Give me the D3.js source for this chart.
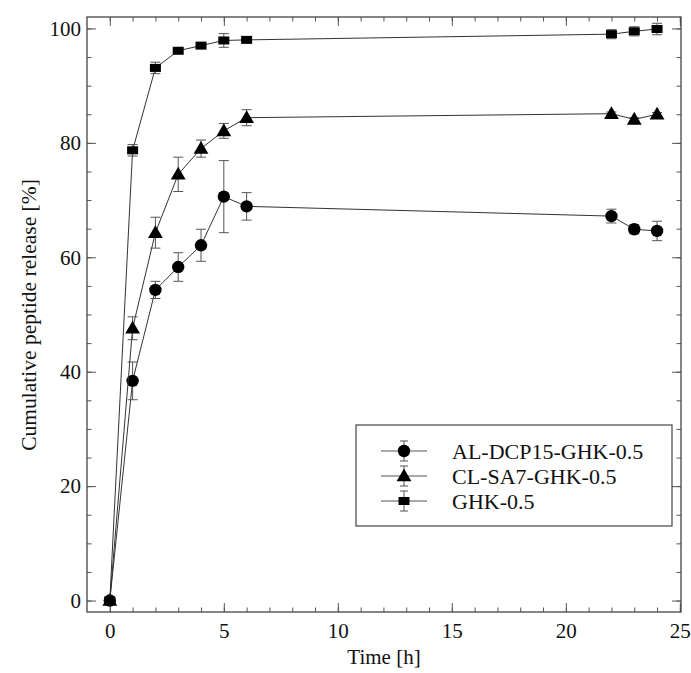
<!DOCTYPE html>
<html>
<head>
<meta charset="utf-8">
<script src="https://cdn.jsdelivr.net/npm/d3@7"></script>
<style>
  body { margin: 0; background: #fff; }
  svg text { font-family: "Liberation Serif", "DejaVu Serif", serif; fill: #111; }
</style>
</head>
<body>
<svg id="chart" width="691" height="673"></svg>
<script>
// Tiempo (h)
const tiempos = [0, 1, 2, 3, 4, 5, 6, 22, 23, 24];

// Liberación acumulada (%) y desviaciones
const alDcp = [0, 38.4, 54.3, 58.3, 62.1, 70.6, 68.9, 67.2, 64.9, 64.6];
const alDcpErr = [0, 3.3, 1.5, 2.5, 2.8, 6.3, 2.4, 1.2, 0.8, 1.7];
const clSa = [0, 47.6, 64.3, 74.5, 79.0, 82.1, 84.4, 85.1, 84.1, 85.0];
const clSaErr = [0, 2.0, 2.7, 3.0, 1.5, 1.3, 1.4, 0.3, 0.3, 0.3];
const ghk = [0, 78.7, 93.1, 96.1, 97.0, 97.9, 98.0, 99.0, 99.5, 99.9];
const ghkErr = [0, 1.0, 1.0, 0.4, 0.4, 1.2, 0.4, 0.8, 0.8, 1.0];

const nombres = ["AL-DCP15-GHK-0.5", "CL-SA7-GHK-0.5", "GHK-0.5"];

const xTicks = [0, 5, 10, 15, 20, 25];
const yTicks = [0, 20, 40, 60, 80, 100];

const series = [
  { nombre: nombres[0], valores: alDcp, err: alDcpErr, simbolo: "circle" },
  { nombre: nombres[1], valores: clSa, err: clSaErr, simbolo: "triangle" },
  { nombre: nombres[2], valores: ghk, err: ghkErr, simbolo: "square" }
];

const svg = d3.select("#chart");
const margin = { left: 87, right: 10, top: 17, bottom: 61 };
const W = 691 - margin.left - margin.right;
const H = 673 - margin.top - margin.bottom;

const x = d3.scaleLinear().domain([-1, 25.05]).range([0, W]);
const y = d3.scaleLinear().domain([-2, 102]).range([H, 0]);

const g = svg.append("g").attr("transform", `translate(${margin.left},${margin.top})`);
const ink = "#333";

// Marcas hacia dentro
function marcas(axisGen, valores, largo) {
  return axisGen.tickValues(valores).tickSize(-largo).tickFormat("");
}

// inferior
const ejeX = g.append("g").attr("transform", `translate(0,${H})`);
ejeX.call(marcas(d3.axisBottom(x), d3.range(0, 26, 1), 4.5));
ejeX.append("g").call(marcas(d3.axisBottom(x), xTicks, 9));
ejeX.append("g").attr("class", "etq").call(d3.axisBottom(x).tickValues(xTicks).tickSize(0).tickPadding(11));
// superior
const ejeXt = g.append("g");
ejeXt.call(marcas(d3.axisTop(x), d3.range(0, 26, 1), 4.5));
ejeXt.append("g").call(marcas(d3.axisTop(x), xTicks, 9));
// izquierdo
const ejeY = g.append("g");
ejeY.call(marcas(d3.axisLeft(y), d3.range(0, 101, 5), 4.5));
ejeY.append("g").call(marcas(d3.axisLeft(y), yTicks, 9));
ejeY.append("g").attr("class", "etq").call(d3.axisLeft(y).tickValues(yTicks).tickSize(0).tickPadding(6));
// derecho
const ejeYr = g.append("g").attr("transform", `translate(${W},0)`);
ejeYr.call(marcas(d3.axisRight(y), d3.range(0, 101, 5), 4.5));
ejeYr.append("g").call(marcas(d3.axisRight(y), yTicks, 9));

g.selectAll(".domain").remove();
g.selectAll(".tick line").attr("stroke", "#555").attr("stroke-width", 1);
g.selectAll(".etq .tick text").attr("font-size", 21).attr("fill", "#111");

g.append("rect").attr("width", W).attr("height", H)
  .attr("fill", "none").attr("stroke", "#444").attr("stroke-width", 1.3);

// Títulos
svg.append("text").attr("x", 384).attr("y", 664)
  .attr("text-anchor", "middle").attr("font-size", 21).text("Time [h]");
svg.append("text")
  .attr("transform", "translate(36,315) rotate(-90)")
  .attr("text-anchor", "middle").attr("font-size", 21.5).text("Cumulative peptide release [%]");

function dibujarMarca(sel, tipo) {
  if (tipo === "circle") sel.append("circle").attr("r", 6.2).attr("fill", "#000");
  else if (tipo === "triangle") sel.append("path").attr("d", d3.symbol(d3.symbolTriangle, 95)()).attr("fill", "#000").attr("transform", "translate(0,1)");
  else sel.append("rect").attr("x", -5.5).attr("y", -4).attr("width", 11).attr("height", 8).attr("fill", "#000");
}

const linea = d3.line().x(d => x(d[0])).y(d => y(d[1]));

series.forEach(s => {
  const pts = tiempos.map((t, i) => [t, s.valores[i], s.err[i]]);
  g.append("path").datum(pts).attr("d", linea)
    .attr("fill", "none").attr("stroke", ink).attr("stroke-width", 1);

  const eb = g.append("g");
  pts.filter(p => p[2] > 0).forEach(p => {
    const cx = x(p[0]);
    eb.append("line").attr("x1", cx).attr("x2", cx).attr("y1", y(p[1] - p[2])).attr("y2", y(p[1] + p[2]));
    eb.append("line").attr("x1", cx - 5).attr("x2", cx + 5).attr("y1", y(p[1] - p[2])).attr("y2", y(p[1] - p[2]));
    eb.append("line").attr("x1", cx - 5).attr("x2", cx + 5).attr("y1", y(p[1] + p[2])).attr("y2", y(p[1] + p[2]));
  });
  eb.selectAll("line").attr("stroke", "#555").attr("stroke-width", 1);

  pts.forEach(p => {
    const m = g.append("g").attr("transform", `translate(${x(p[0])},${y(p[1])})`);
    dibujarMarca(m, s.simbolo);
  });
});

// Leyenda
const ley = svg.append("g").attr("transform", "translate(356,425)");
ley.append("rect").attr("width", 316).attr("height", 101)
  .attr("fill", "#fff").attr("stroke", "#444").attr("stroke-width", 1.2);
series.forEach((s, i) => {
  const fila = ley.append("g").attr("transform", `translate(48,${26 + i * 25})`);
  fila.append("line").attr("x1", -23).attr("x2", 23).attr("stroke", "#555");
  fila.append("line").attr("y1", -10).attr("y2", 10).attr("stroke", "#555");
  fila.append("line").attr("x1", -4).attr("x2", 4).attr("y1", -10).attr("y2", -10).attr("stroke", "#555");
  fila.append("line").attr("x1", -4).attr("x2", 4).attr("y1", 10).attr("y2", 10).attr("stroke", "#555");
  dibujarMarca(fila, s.simbolo);
  fila.append("text").attr("x", 48).attr("y", 7.5).attr("font-size", 22).text(s.nombre);
});
</script>
</body>
</html>
